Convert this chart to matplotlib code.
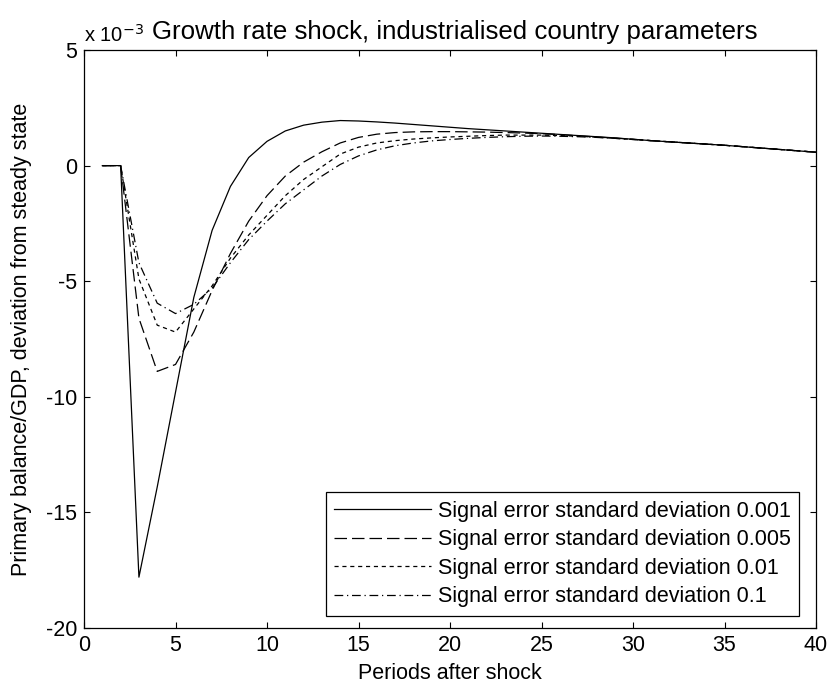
import numpy as np
import matplotlib
matplotlib.use('Agg')
from matplotlib import pyplot as plt

plt.rcParams.update({'font.size': 15.5, 'font.family': 'Liberation Sans',
                     'axes.unicode_minus': False})

periods = np.arange(1, 41)

# primary balance / GDP, deviation from steady state (units of 1e-3)
sd_0001 = [0, 0, -17.8, -13.9, -9.8, -5.7, -2.8, -0.9, 0.35, 1.05,
           1.5, 1.75, 1.88, 1.95, 1.93, 1.89, 1.84, 1.78, 1.72, 1.66,
           1.6, 1.55, 1.5, 1.45, 1.4, 1.35, 1.3, 1.25, 1.2, 1.14,
           1.08, 1.03, 0.98, 0.93, 0.88, 0.82, 0.76, 0.7, 0.64, 0.58]
sd_0005 = [0, 0, -6.6, -8.9, -8.6, -7.2, -5.4, -3.8, -2.4, -1.3,
           -0.45, 0.15, 0.6, 0.98, 1.22, 1.36, 1.43, 1.46, 1.47, 1.47,
           1.46, 1.45, 1.43, 1.41, 1.38, 1.34, 1.29, 1.24, 1.19, 1.14,
           1.08, 1.03, 0.98, 0.93, 0.88, 0.82, 0.76, 0.7, 0.64, 0.58]
sd_001 = [0, 0, -4.9, -6.9, -7.2, -6.2, -5.2, -4.0, -3.0, -2.15,
          -1.3, -0.6, -0.05, 0.5, 0.8, 0.98, 1.08, 1.15, 1.2, 1.24,
          1.27, 1.3, 1.32, 1.32, 1.32, 1.3, 1.27, 1.23, 1.18, 1.13,
          1.08, 1.03, 0.98, 0.93, 0.88, 0.82, 0.76, 0.7, 0.64, 0.58]
sd_01 = [0, 0, -4.2, -5.95, -6.4, -6.0, -5.3, -4.2, -3.2, -2.4,
         -1.65, -1.05, -0.45, 0.05, 0.42, 0.68, 0.86, 0.98, 1.07, 1.13,
         1.18, 1.22, 1.25, 1.27, 1.28, 1.27, 1.25, 1.22, 1.18, 1.13,
         1.08, 1.03, 0.98, 0.93, 0.88, 0.82, 0.76, 0.7, 0.64, 0.58]

labels = ['Signal error standard deviation 0.001',
          'Signal error standard deviation 0.005',
          'Signal error standard deviation 0.01',
          'Signal error standard deviation 0.1']

fig = plt.figure(figsize=(8.27, 6.89), dpi=100)
ax = fig.add_axes([0.1016, 0.0885, 0.8851, 0.8389])

lw = 0.9
ax.plot(periods, sd_0001, color='k', lw=lw, linestyle='-', label=labels[0])
ax.plot(periods, sd_0005, color='k', lw=lw, linestyle=(0, (10, 4)), label=labels[1])
ax.plot(periods, sd_001, color='k', lw=lw, linestyle=(0, (3.3, 3)), label=labels[2])
ax.plot(periods, sd_01, color='k', lw=lw, linestyle=(0, (7, 3, 1, 3)), label=labels[3])

ax.set_xlim(0, 40)
ax.set_ylim(-20, 5)
ax.set_xticks(range(0, 41, 5))
ax.set_yticks(range(-20, 6, 5))
ax.tick_params(direction='in', length=4.5, width=0.8, top=True, right=True, pad=5)
for s in ax.spines.values():
    s.set_linewidth(0.9)

ax.set_xlabel('Periods after shock', labelpad=5)
ax.set_ylabel('Primary balance/GDP, deviation from steady state', labelpad=10)
ax.set_title('Growth rate shock, industrialised country parameters', pad=8, x=0.507)
ax.text(0.0, 1.008, r'x 10$^{-3}$', transform=ax.transAxes, ha='left', va='bottom', fontsize=14.5)

leg = ax.legend(loc='lower right', bbox_to_anchor=(0.9768, 0.0208), borderaxespad=0,
                fancybox=False, edgecolor='k', framealpha=1, handlelength=4.5,
                borderpad=0.4, labelspacing=0.35, handletextpad=0.3)
leg.get_frame().set_linewidth(0.9)

plt.savefig('out.png', dpi=100)
